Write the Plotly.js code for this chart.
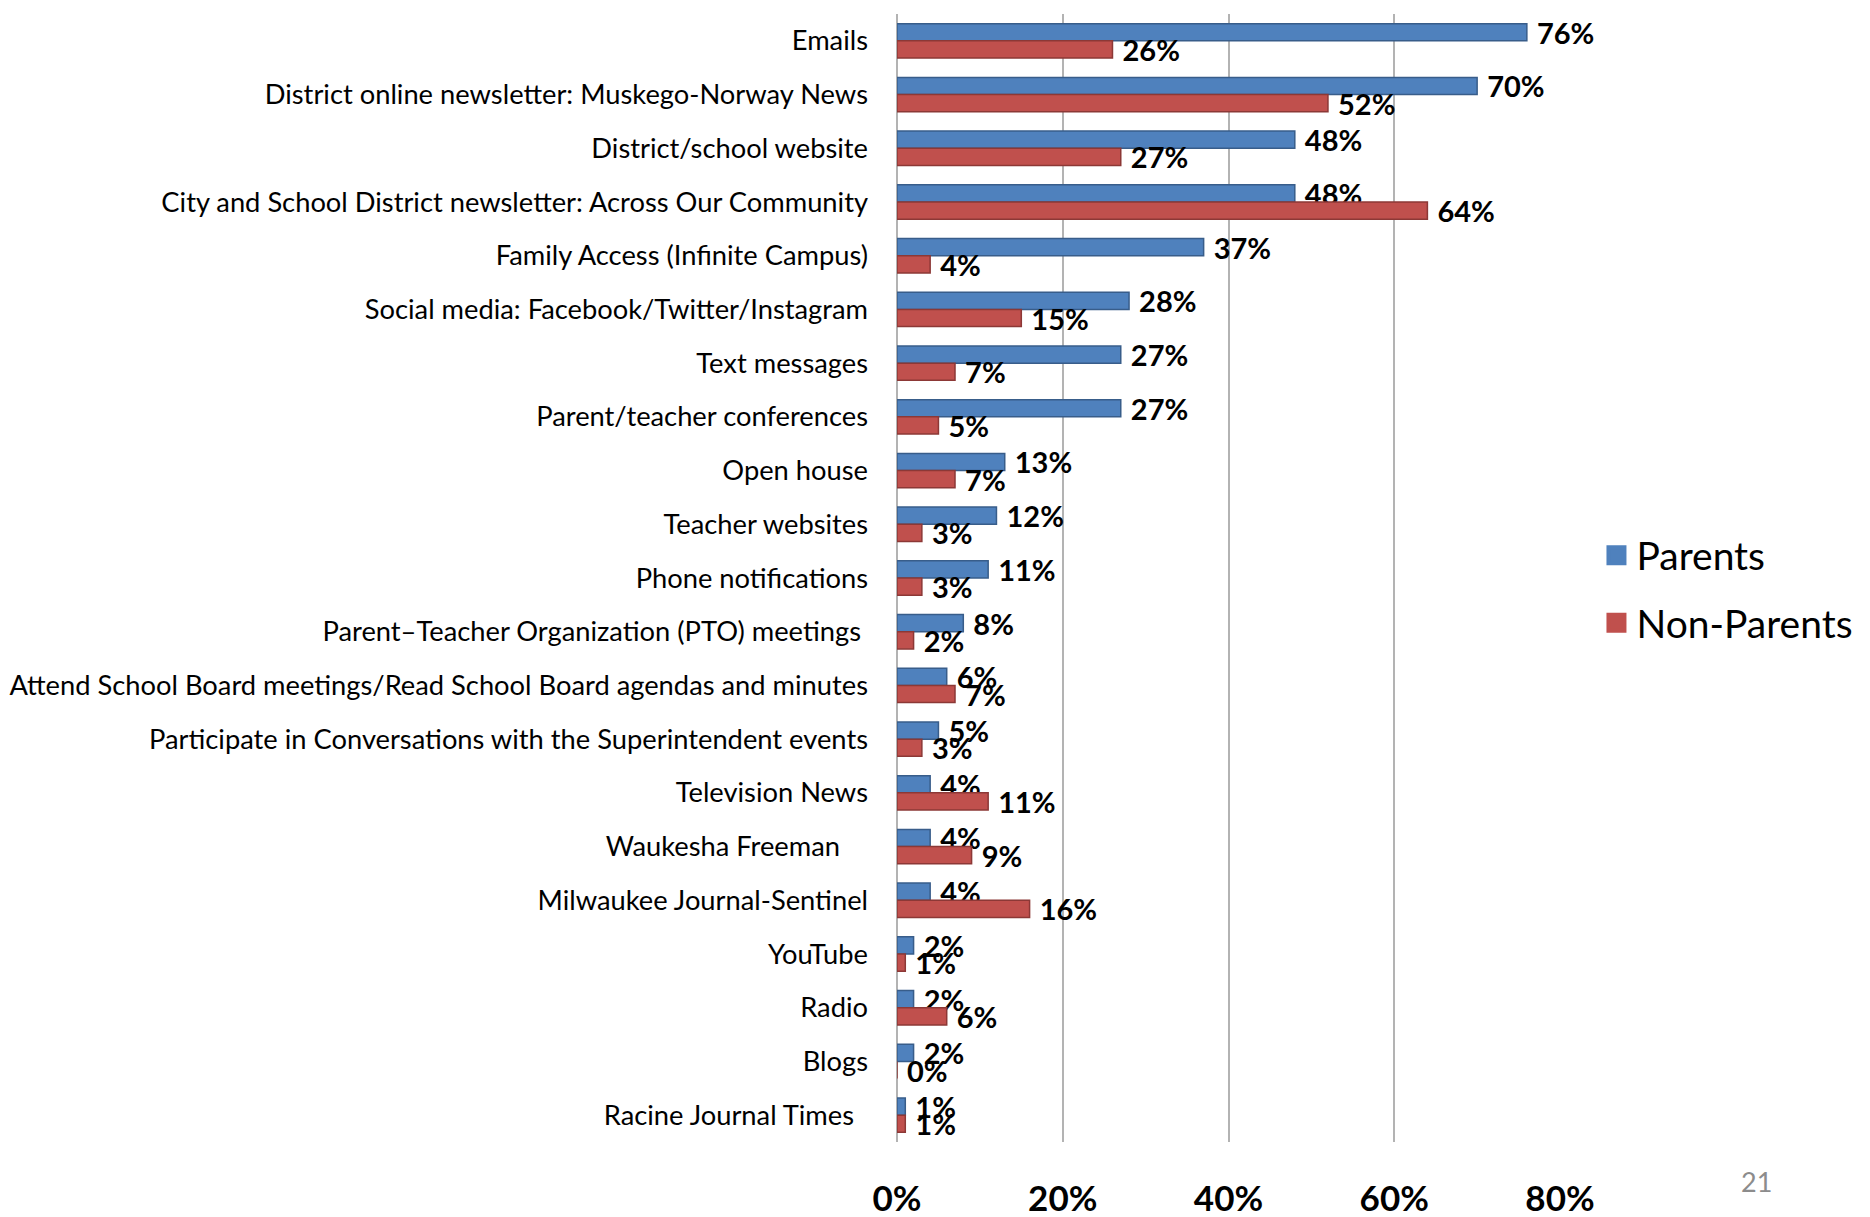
<!DOCTYPE html>
<html>
<head>
<meta charset="utf-8">
<script src="https://cdn.plot.ly/plotly-3.0.1.min.js"></script>
<style>
  html, body { margin: 0; padding: 0; background: #ffffff; }
  #chart { width: 1870px; height: 1217px; }
</style>
</head>
<body>
<div id="chart"></div>
<script>
const categories = [
  "Emails",
  "District online newsletter: Muskego-Norway News",
  "District/school website",
  "City and School District newsletter: Across Our Community",
  "Family Access (Infinite Campus)",
  "Social media: Facebook/Twitter/Instagram",
  "Text messages",
  "Parent/teacher conferences",
  "Open house",
  "Teacher websites",
  "Phone notifications",
  "Parent\u2013Teacher Organization (PTO) meetings\u00a0",
  "Attend School Board meetings/Read School Board agendas and minutes",
  "Participate in Conversations with the Superintendent events",
  "Television News",
  "Waukesha Freeman\u00a0\u00a0\u00a0\u00a0",
  "Milwaukee Journal-Sentinel",
  "YouTube",
  "Radio",
  "Blogs",
  "Racine Journal Times\u00a0\u00a0"
];
const parents    = [76, 70, 48, 48, 37, 28, 27, 27, 13, 12, 11, 8, 6, 5, 4, 4, 4, 2, 2, 2, 1];
const nonParents = [26, 52, 27, 64, 4, 15, 7, 5, 7, 3, 3, 2, 7, 3, 11, 9, 16, 1, 6, 0, 1];
const seriesNames = ["Parents", "Non-Parents"];
const seriesColors = ["#4F81BD", "#C0504D"];
const edgeColors = ["#385D8A", "#8C3836"];
const xTickVals = [0, 20, 40, 60, 80];
const xTickText = ["0%", "20%", "40%", "60%", "80%"];
const pageNumber = "21";

const labelFont = { family: "Lato, 'Open Sans', sans-serif", size: 27.3, color: "#000000" };
const valueFont = { family: "Lato, sans-serif", size: 29, color: "#000000", weight: "bold" };

function barTrace(i, values) {
  return {
    type: "bar", orientation: "h", name: seriesNames[i], legendgroup: "g" + i,
    showlegend: false,
    y: categories, x: values,
    marker: { color: seriesColors[i], line: { color: edgeColors[i], width: 1.5 } },
    text: values.map(v => "\u00a0" + v + "%"), texttemplate: "%{text}",
    textposition: "outside", constraintext: "none", cliponaxis: false,
    textfont: valueFont,
    hoverinfo: "skip"
  };
}
function legendTrace(i) {
  return {
    type: "scatter", mode: "markers", name: seriesNames[i], legendgroup: "g" + i,
    showlegend: true, x: [null], y: [null],
    marker: { symbol: "square", size: 16, color: seriesColors[i], line: { color: seriesColors[i], width: 4 } },
    hoverinfo: "skip"
  };
}

const traces = [
  barTrace(0, parents),
  barTrace(1, nonParents),
  legendTrace(0),
  legendTrace(1)
];

const layout = {
  width: 1870, height: 1217,
  paper_bgcolor: "#ffffff", plot_bgcolor: "#ffffff",
  margin: { l: 897, r: 308, t: 14, b: 75 },
  barmode: "group", bargap: 0.36, bargroupgap: 0,
  showlegend: true,
  legend: {
    x: 1.055, y: 0.49, xanchor: "left", yanchor: "middle",
    font: { family: "Lato, sans-serif", size: 39, color: "#000000" },
    traceorder: "grouped", tracegroupgap: 14, itemsizing: "trace",
    bgcolor: "rgba(0,0,0,0)"
  },
  xaxis: {
    range: [0, 80], tickmode: "array", tickvals: xTickVals, ticktext: xTickText,
    showgrid: true, gridcolor: "#B3B3B3", gridwidth: 2,
    zeroline: true, zerolinecolor: "#B3B3B3", zerolinewidth: 2,
    showline: false, ticks: "", ticklabelstandoff: 33,
    tickfont: { family: "Lato, sans-serif", size: 35, color: "#000000", weight: "bold" },
    fixedrange: true
  },
  yaxis: {
    type: "category", autorange: "reversed",
    showgrid: false, zeroline: false, showline: false, ticks: "",
    ticklabelstandoff: 28,
    tickfont: labelFont,
    fixedrange: true
  },
  annotations: [
    {
      text: pageNumber, xref: "paper", yref: "paper", x: 1.296, y: -0.035,
      xanchor: "center", yanchor: "middle", showarrow: false,
      font: { family: "Lato, sans-serif", size: 27, color: "#8C8C8C" }
    }
  ]
};

Plotly.newPlot("chart", traces, layout, { displayModeBar: false, staticPlot: true });
</script>
</body>
</html>
